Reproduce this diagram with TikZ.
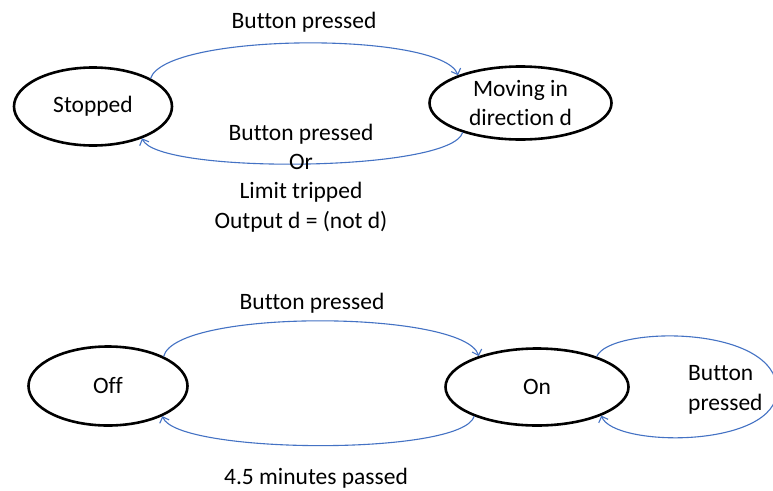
\documentclass[tikz,border=0pt]{standalone}
\usepackage{fontspec}
\setmainfont{Carlito}[Ligatures={NoCommon}]
\usetikzlibrary{shapes.geometric,arrows.meta}
\definecolor{linkblue}{HTML}{4472C4}
\tikzset{
  state/.style={ellipse, draw=black, line width=2.6pt, inner sep=0pt, align=center,
                font=\fontsize{23.5}{29.3}\selectfont},
  trans/.style={draw=linkblue, line width=1.1pt,
                -{Straight Barb[length=5pt,width=10pt]}},
  lbl/.style={font=\fontsize{23.5}{29.3}\selectfont, inner sep=0pt, anchor=base}
}
\begin{document}
\begin{tikzpicture}[x=1pt,y=-1pt]
\useasboundingbox[fill=white] (0,0) rectangle (773,490);

% --- direction controller ---
\node[state, minimum width=158pt, minimum height=78pt] (stopped) at (93,106.5) {Stopped};
\node[state, minimum width=182pt, minimum height=73pt] (moving) at (520.5,103) {\raisebox{-3pt}{Moving in}\\\raisebox{-3pt}{direction d}};

\draw[trans] (stopped.26) .. controls +(15,-46) and +(-17,-44) .. (moving.156);
\draw[trans] (moving.-153) .. controls +(-12,40) and +(15,36) .. (stopped.-33);

\node[lbl] (lblgo) at (304,28) {Button pressed};
% multi-line labels: the base anchor sits on the last line
\node[lbl, align=center] (lblstop) at (301,228) {Button pressed\\Or\\Limit tripped\\Output d = (not d)};

% --- timed switch ---
\node[state, minimum width=159pt, minimum height=79pt] (off) at (108,386) {Off};
\node[state, minimum width=183pt, minimum height=77pt] (on) at (537,387) {On};
\coordinate (loopR) at (777,390);

\draw[trans] (off.28.5) .. controls +(12,-48) and +(-15,-46) .. (on.152);
\draw[trans] (on.205) .. controls +(-12,40) and +(14,38) .. (off.-29);
\draw[trans] (on.27) .. controls +(13,-31) and +(0,-66) .. (loopR)
                     .. controls +(0,59) and +(12,32) .. (on.-24);

\node[lbl] (lblon) at (312,309) {Button pressed};
\node[lbl, align=left, anchor=base west] (lblagain) at (688,410) {Button\\pressed};
\node[lbl] (lbltime) at (316,484.5) {4.5 minutes passed};
\end{tikzpicture}
\end{document}
